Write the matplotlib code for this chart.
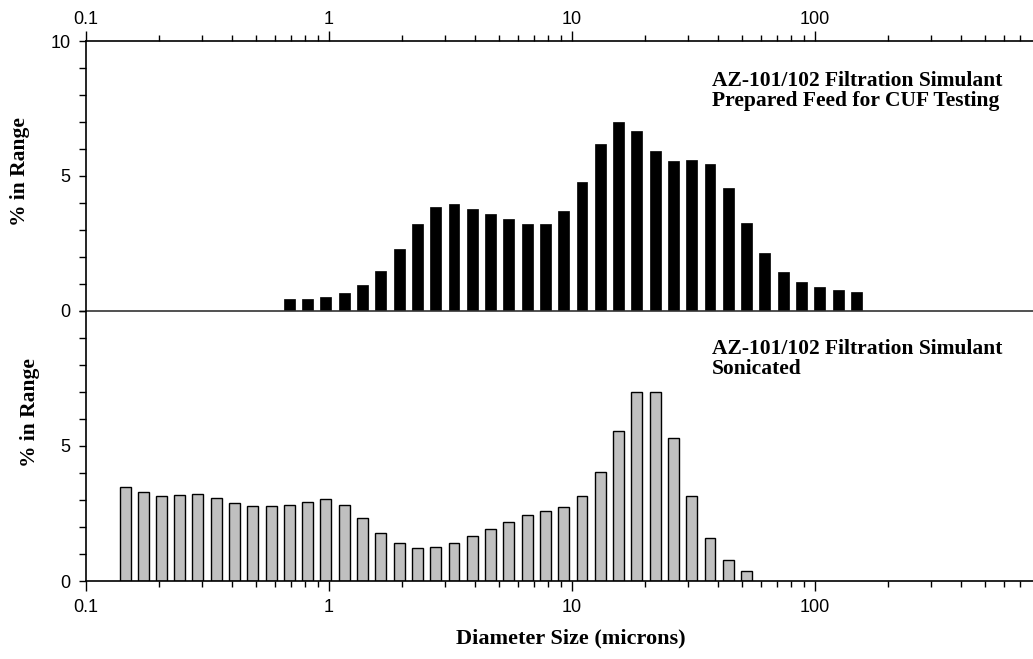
import matplotlib
matplotlib.use("Agg")
import matplotlib.pyplot as plt
import numpy as np
from matplotlib.ticker import LogLocator, FixedLocator, NullFormatter

# Microtrac channel diameters (microns)
sizes_top = [0.688, 0.818, 0.972, 1.156, 1.375, 1.635, 1.945, 2.312, 2.75, 3.27,
             3.89, 4.62, 5.5, 6.54, 7.78, 9.25, 11.0, 13.08, 15.56, 18.5,
             22.0, 26.16, 31.11, 37.0, 44.0, 52.33, 62.23, 74.0, 88.0, 104.7,
             124.5, 148.0]
pct_top = [0.43, 0.46, 0.52, 0.67, 0.95, 1.48, 2.30, 3.24, 3.85, 3.96,
           3.78, 3.59, 3.41, 3.22, 3.24, 3.70, 4.78, 6.18, 6.99, 6.67,
           5.93, 5.56, 5.58, 5.46, 4.57, 3.26, 2.14, 1.44, 1.07, 0.88,
           0.77, 0.72]

sizes_bot = [0.145, 0.172, 0.204, 0.243, 0.289, 0.344, 0.409, 0.486, 0.578, 0.688,
             0.818, 0.972, 1.156, 1.375, 1.635, 1.945, 2.312, 2.75, 3.27, 3.89,
             4.62, 5.5, 6.54, 7.78, 9.25, 11.0, 13.08, 15.56, 18.5, 22.0,
             26.16, 31.11, 37.0, 44.0, 52.33]
pct_bot = [3.50, 3.31, 3.15, 3.19, 3.24, 3.06, 2.88, 2.78, 2.76, 2.82,
           2.93, 3.02, 2.82, 2.34, 1.78, 1.39, 1.23, 1.25, 1.41, 1.65,
           1.91, 2.19, 2.44, 2.60, 2.75, 3.16, 4.04, 5.54, 7.01, 7.01,
           5.30, 3.16, 1.60, 0.76, 0.36]

label_top = "AZ-101/102 Filtration Simulant\nPrepared Feed for CUF Testing"
label_bot = "AZ-101/102 Filtration Simulant\nSonicated"
xticks = [0.1, 1, 10, 100]
xtick_labels = ["0.1", "1", "10", "100"]
ylab = "% in Range"
xlab = "Diameter Size (microns)"

SANS = "Liberation Sans"
SERIF = "Liberation Serif"
plt.rcParams['font.family'] = SANS

W, H = 1033, 659
fig = plt.figure(figsize=(W / 100, H / 100), dpi=100)

left = 86 / W
axw = 1.0 - left
ax_top = fig.add_axes([left, 1 - 311 / H, axw, 270 / H])
ax_bot = fig.add_axes([left, 1 - 581 / H, axw, 270 / H])

step = np.log10(2) / 4
frac = 0.6


def draw_bars(ax, xs, ys, face, edge, lw):
    xs = np.asarray(xs)
    lo = xs * 10 ** (-frac * step / 2)
    hi = xs * 10 ** (frac * step / 2)
    ax.bar(lo, ys, width=hi - lo, align='edge', color=face, edgecolor=edge,
           linewidth=lw, zorder=2)


draw_bars(ax_top, sizes_top, pct_top, 'black', 'black', 0.5)
draw_bars(ax_bot, sizes_bot, pct_bot, '#c0c0c0', 'black', 1.0)

TICKFS = 13
for ax in (ax_top, ax_bot):
    ax.set_xscale('log')
    ax.set_xlim(0.1, 790)
    ax.set_ylim(0, 10)
    ax.spines['right'].set_visible(False)
    ax.xaxis.set_major_locator(FixedLocator(xticks))
    ax.xaxis.set_minor_locator(LogLocator(base=10, subs=np.arange(2, 10)))
    ax.xaxis.set_minor_formatter(NullFormatter())
    ax.yaxis.set_minor_locator(FixedLocator(range(0, 11)))
    ax.tick_params(axis='both', which='major', direction='out', length=7,
                   width=1, labelsize=TICKFS, colors='black')
    ax.tick_params(axis='both', which='minor', direction='out', length=4.5,
                   width=1)
    ax.tick_params(axis='y', which='both', length=5, pad=6)
    for s in ax.spines.values():
        s.set_linewidth(1.2)
    ax.set_facecolor('none')

# top panel: x axis on top
ax_top.xaxis.set_ticks_position('top')
ax_top.set_xticks(xticks)
ax_top.set_xticklabels(xtick_labels)
ax_top.set_yticks([0, 5, 10])
ax_top.set_yticklabels(["0", "5", "10"])
ax_top.tick_params(axis='x', which='major', pad=2)
ax_top.spines['bottom'].set_color('#333333')

# bottom panel
ax_bot.spines['top'].set_visible(False)
ax_bot.xaxis.set_ticks_position('bottom')
ax_bot.set_xticks(xticks)
ax_bot.set_xticklabels(xtick_labels)
ax_bot.set_yticks([0, 5])
ax_bot.set_yticklabels(["0", "5"])
ax_bot.tick_params(axis='x', which='major', pad=6)

ANNFS = 15.5
fig.text(712 / W, 1 - 91 / H, label_top,
         fontfamily=SERIF, fontweight='bold', fontsize=ANNFS,
         ha='left', va='center', linespacing=1.0)
fig.text(712 / W, 1 - 359 / H, label_bot,
         fontfamily=SERIF, fontweight='bold', fontsize=ANNFS,
         ha='left', va='center', linespacing=1.0)

fig.text(20 / W, 1 - 172 / H, ylab, rotation=90, fontfamily=SERIF,
         fontweight='bold', fontsize=15.5, ha='center', va='center')
fig.text(30 / W, 1 - 413 / H, ylab, rotation=90, fontfamily=SERIF,
         fontweight='bold', fontsize=15.5, ha='center', va='center')
fig.text(571 / W, 1 - 638 / H, xlab, fontfamily=SERIF, fontweight='bold',
         fontsize=16, ha='center', va='center')

fig.savefig("out.png", dpi=100)
